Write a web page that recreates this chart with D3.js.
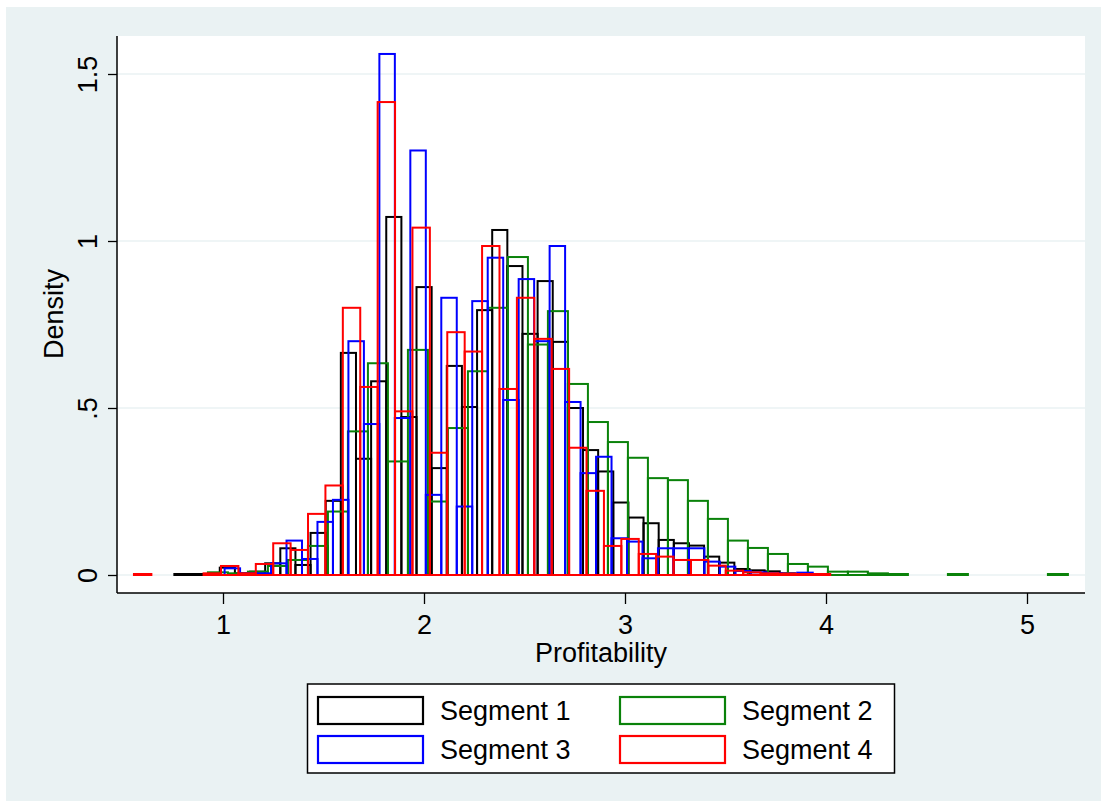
<!DOCTYPE html>
<meta charset="utf-8">
<style>
  body { margin: 0; background: #fff; }
  text { font-family: "Liberation Sans", Arial, sans-serif; fill: #000; }
</style>
<body>
<div id="my_dataviz"></div>
<script src="https://d3js.org/d3.v7.min.js"></script>
<script>
// bin start, bin width and bar heights (density) for each segment
var seg1Start = 0.758, seg1Width = 0.0753;
var seg1 = [0.003, 0.003, 0, 0.022, 0.005, 0.01, 0.035, 0.08, 0.03, 0.126,
  0.222, 0.665, 0.348, 0.58, 1.072, 0.473, 0.862, 0.32, 0.626, 0.503,
  0.793, 1.033, 0.925, 0.722, 0.88, 0.698, 0.50, 0.374, 0.31, 0.217,
  0.172, 0.155, 0.105, 0.095, 0.088, 0.055, 0.037, 0.018, 0.014, 0.011, 0.005];

var seg2Start = 0.925, seg2Width = 0.0995;
var seg2 = [0.008, 0.005, 0.01, 0.027, 0.045, 0.087, 0.19, 0.43, 0.634, 0.34,
  0.674, 0.22, 0.44, 0.61, 0.80, 0.952, 0.69, 0.79, 0.572, 0.458,
  0.398, 0.351, 0.29, 0.284, 0.222, 0.168, 0.103, 0.081, 0.063, 0.033,
  0.025, 0.01, 0.01, 0.005, 0.003, 0, 0, 0.003, 0, 0, 0, 0, 0.003];

var seg3Start = 1.008, seg3Width = 0.0770;
var seg3 = [0.02, 0.005, 0.005, 0.035, 0.103, 0.048, 0.159, 0.225, 0.70, 0.452,
  1.56, 0.47, 1.271, 0.24, 0.83, 0.205, 0.82, 0.95, 0.524, 0.886,
  0.70, 0.985, 0.518, 0.305, 0.354, 0.11, 0.10, 0.05, 0.08, 0.08,
  0.08, 0.04, 0.025, 0.012, 0.008, 0.005, 0.004, 0.007];

var seg4Start = 0.557, seg4Width = 0.0866;
var seg4 = [0.003, 0, 0, 0, 0.005, 0.027, 0.005, 0.033, 0.095, 0.075,
  0.183, 0.268, 0.80, 0.563, 1.416, 0.49, 1.04, 0.366, 0.727, 0.669,
  0.985, 0.557, 0.83, 0.707, 0.617, 0.381, 0.252, 0.087, 0.108, 0.063,
  0.055, 0.045, 0.045, 0.028, 0.013, 0.008, 0.005, 0.004, 0.003, 0.003];

var segNames = ["Segment 1", "Segment 2", "Segment 3", "Segment 4"];
var segColors = ["#000000", "#0a820a", "#0000ff", "#ff0000"];

var xTicks = [1, 2, 3, 4, 5];
var yTicks = [0, 0.5, 1, 1.5];
var yTickLabels = ["0", ".5", "1", "1.5"];

var width = 1108, height = 807;
// plot region
var plot = { left: 117, right: 1085, top: 36, bottom: 593 };
var fontSize = "27px";

var svg = d3.select("#my_dataviz")
  .append("svg")
  .attr("width", width)
  .attr("height", height);

// outer background
svg.append("rect")
  .attr("x", 6).attr("y", 7)
  .attr("width", 1095).attr("height", 794)
  .attr("fill", "#eaf2f3");

svg.append("rect")
  .attr("x", plot.left).attr("y", plot.top)
  .attr("width", plot.right - plot.left)
  .attr("height", plot.bottom - plot.top)
  .attr("fill", "#ffffff");

var x = d3.scaleLinear().domain([1, 5]).range([223, 1027]);
var y = d3.scaleLinear().domain([0, 1.5]).range([575, 74]);

// grid lines
svg.append("g")
  .selectAll("line")
  .data(yTicks)
  .enter()
  .append("line")
  .attr("x1", plot.left).attr("x2", plot.right)
  .attr("y1", function (d) { return y(d); })
  .attr("y2", function (d) { return y(d); })
  .attr("stroke", "#eaf2f3")
  .attr("stroke-width", 1.5);

// histograms, drawn in legend order
var segs = [
  { start: seg1Start, w: seg1Width, h: seg1 },
  { start: seg2Start, w: seg2Width, h: seg2 },
  { start: seg3Start, w: seg3Width, h: seg3 },
  { start: seg4Start, w: seg4Width, h: seg4 }
];

segs.forEach(function (s, si) {
  var bins = s.h.map(function (v, i) {
    return { x0: s.start + i * s.w, x1: s.start + (i + 1) * s.w, v: v };
  }).filter(function (b) { return b.v > 0; });

  svg.append("g")
    .selectAll("rect")
    .data(bins)
    .enter()
    .append("rect")
    .attr("x", function (b) { return x(b.x0); })
    .attr("width", function (b) { return x(b.x1) - x(b.x0); })
    .attr("y", function (b) { return y(b.v); })
    .attr("height", function (b) { return y(0) - y(b.v); })
    .attr("fill", "none")
    .attr("stroke", segColors[si])
    .attr("stroke-width", 2);
});

// Y axis
var yAxis = svg.append("g")
  .attr("transform", "translate(" + plot.left + ",0)")
  .call(d3.axisLeft(y).tickValues(yTicks).tickSize(9)
    .tickFormat(function (d, i) { return yTickLabels[i]; }));
yAxis.select(".domain").remove();
yAxis.selectAll("line").attr("stroke", "#000").attr("stroke-width", 1.3);
yAxis.selectAll("text")
  .attr("transform", "rotate(-90)")
  .attr("x", 0).attr("y", -20).attr("dy", 0)
  .style("text-anchor", "middle")
  .style("font-size", fontSize);
svg.append("line")
  .attr("x1", plot.left).attr("x2", plot.left)
  .attr("y1", plot.top).attr("y2", plot.bottom)
  .attr("stroke", "#000").attr("stroke-width", 1.5);

// X axis
var xAxis = svg.append("g")
  .attr("transform", "translate(0," + plot.bottom + ")")
  .call(d3.axisBottom(x).tickValues(xTicks).tickSize(11).tickFormat(d3.format("d")));
xAxis.select(".domain").remove();
xAxis.selectAll("line").attr("stroke", "#000").attr("stroke-width", 1.3);
xAxis.selectAll("text")
  .attr("y", 22)
  .style("font-size", fontSize);
svg.append("line")
  .attr("x1", plot.left).attr("x2", plot.right)
  .attr("y1", plot.bottom).attr("y2", plot.bottom)
  .attr("stroke", "#000").attr("stroke-width", 1.5);

// axis titles
svg.append("text")
  .attr("x", 601).attr("y", 662)
  .style("text-anchor", "middle")
  .style("font-size", fontSize)
  .text("Profitability");

svg.append("text")
  .attr("transform", "translate(63,314) rotate(-90)")
  .style("text-anchor", "middle")
  .style("font-size", fontSize)
  .text("Density");

// legend
var legend = svg.append("g");
legend.append("rect")
  .attr("x", 307.5).attr("y", 684)
  .attr("width", 587).attr("height", 89)
  .attr("fill", "#fff")
  .attr("stroke", "#000").attr("stroke-width", 1.5);

var keyX = [318, 620], keyY = [697, 736], textX = [440, 742];
var items = legend.selectAll("g.item")
  .data(segNames)
  .enter()
  .append("g")
  .attr("class", "item");
items.append("rect")
  .attr("x", function (d, i) { return keyX[i % 2]; })
  .attr("y", function (d, i) { return keyY[Math.floor(i / 2)]; })
  .attr("width", 105).attr("height", 27)
  .attr("fill", "none")
  .attr("stroke", function (d, i) { return segColors[i]; })
  .attr("stroke-width", 2.2);
items.append("text")
  .attr("x", function (d, i) { return textX[i % 2]; })
  .attr("y", function (d, i) { return keyY[Math.floor(i / 2)] + 23; })
  .style("font-size", fontSize)
  .text(function (d) { return d; });
</script>
</body>
